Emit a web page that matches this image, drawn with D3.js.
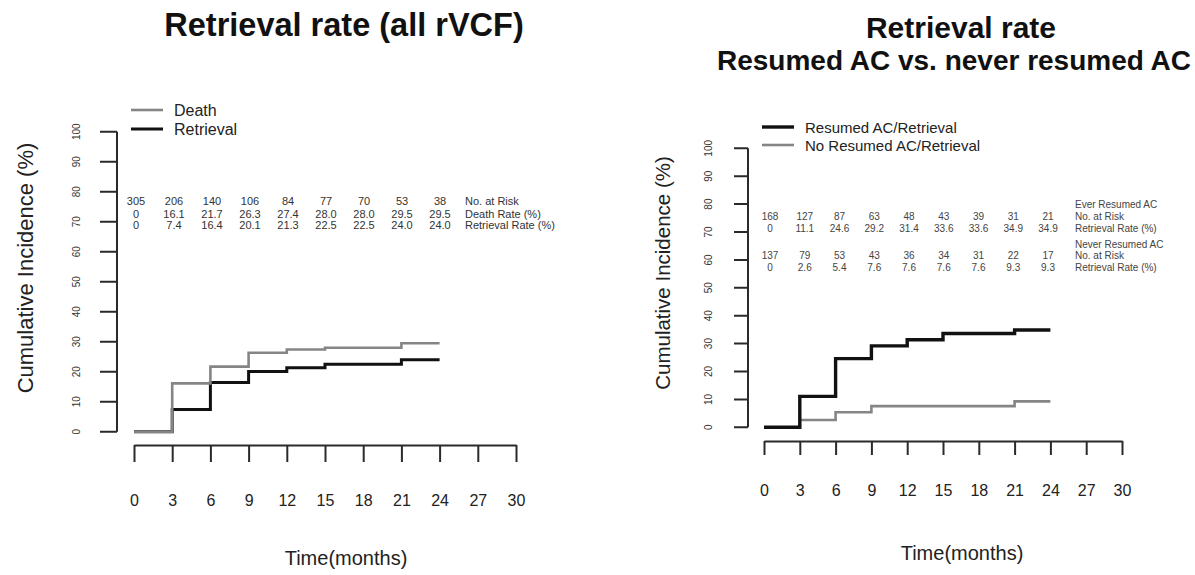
<!DOCTYPE html>
<html>
<head>
<meta charset="utf-8">
<script src="https://cdn.jsdelivr.net/npm/d3@7"></script>
<style>
  body { margin: 0; background: #fff; }
  svg { font-family: "Liberation Sans", Arial, sans-serif; display: block; }
</style>
</head>
<body>
<script>
const months = [0, 3, 6, 9, 12, 15, 18, 21, 24];
const xTicks = [0, 3, 6, 9, 12, 15, 18, 21, 24, 27, 30];
const yTicks = [0, 10, 20, 30, 40, 50, 60, 70, 80, 90, 100];

// left: all rVCF
const allAtRisk = [305, 206, 140, 106, 84, 77, 70, 53, 38];
const allDeathRate = [0, 16.1, 21.7, 26.3, 27.4, 28.0, 28.0, 29.5, 29.5];
const allRetrievalRate = [0, 7.4, 16.4, 20.1, 21.3, 22.5, 22.5, 24.0, 24.0];

// right: resumed AC vs never resumed AC
const everAtRisk = [168, 127, 87, 63, 48, 43, 39, 31, 21];
const everRetrievalRate = [0, 11.1, 24.6, 29.2, 31.4, 33.6, 33.6, 34.9, 34.9];
const neverAtRisk = [137, 79, 53, 43, 36, 34, 31, 22, 17];
const neverRetrievalRate = [0, 2.6, 5.4, 7.6, 7.6, 7.6, 7.6, 9.3, 9.3];

const width = 1195;
const height = 575;
const black = "#111";
const grey = "#858585";
const axisColor = "#2a2a2a";

const svg = d3
  .select("body")
  .append("svg")
  .attr("width", width)
  .attr("height", height)
  .attr("viewBox", [0, 0, width, height]);

const fmtRate = (v) => (v === 0 ? "0" : v.toFixed(1));

function drawPanel(p) {
  const x = d3.scaleLinear([0, 30], [p.x0, p.x1]);
  const y = d3.scaleLinear([0, 100], [p.yBottom, p.yTop]);
  const g = svg.append("g");

  // x axis
  const xAxis = g
    .append("g")
    .attr("transform", `translate(0,${p.xAxisY})`)
    .call(d3.axisBottom(x).tickValues(xTicks).tickSize(p.tick).tickSizeOuter(0));
  xAxis.selectAll("text")
    .attr("y", p.xLabelOff)
    .attr("dy", null)
    .attr("font-size", 16)
    .attr("fill", "#222");
  xAxis.select(".domain").attr("stroke", axisColor).attr("stroke-width", 2);
  xAxis.selectAll(".tick line").attr("stroke", axisColor).attr("stroke-width", 2);

  // y axis spine and ticks, placed in the x-axis group (relative to its origin)
  const yPath = d3.path();
  const dy = -p.xAxisY;
  yPath.moveTo(p.yAxisX, y(100) + dy);
  yPath.lineTo(p.yAxisX, y(0) + dy);
  yTicks.forEach((t) => {
    yPath.moveTo(p.yAxisX - p.tick, y(t) + dy);
    yPath.lineTo(p.yAxisX, y(t) + dy);
  });
  xAxis.append("path")
    .attr("class", "yaxis")
    .attr("d", yPath.toString())
    .attr("fill", "none")
    .attr("stroke", axisColor)
    .attr("stroke-width", 2);

  // y tick labels (rotated, R style)
  g.append("g")
    .selectAll("text")
    .data(yTicks)
    .join("text")
    .attr("transform", (d) => `translate(${p.yAxisX - p.yLabelOff},${y(d)}) rotate(-90)`)
    .attr("text-anchor", "middle")
    .attr("font-size", 10)
    .attr("fill", "#333")
    .text((d) => d);

  // curves, last series first so the first listed one ends on top
  const line = d3
    .line()
    .x((d) => x(d[0]))
    .y((d) => y(d[1]))
    .curve(d3.curveStepAfter);

  p.series.slice().reverse().forEach((s) => {
    g.append("path")
      .datum(months.map((m, i) => [m, s.values[i]]))
      .attr("fill", "none")
      .attr("stroke", s.color)
      .attr("stroke-width", s.width)
      .attr("d", line);
  });

  // legend
  p.series.forEach((s) => {
    g.append("line")
      .attr("x1", p.legend.x)
      .attr("x2", p.legend.x + 32)
      .attr("y1", s.legendY)
      .attr("y2", s.legendY)
      .attr("stroke", s.color)
      .attr("stroke-width", s.width);
    g.append("text")
      .attr("x", p.legend.x + 43)
      .attr("y", s.legendY + 6)
      .attr("font-size", p.legend.size)
      .attr("fill", "#222")
      .text(s.name);
  });

  // risk table
  const tx = p.tableScale;
  p.table.forEach((row) => {
    if (row.values) {
      g.append("g")
        .selectAll("text")
        .data(row.values)
        .join("text")
        .attr("x", (d, i) => tx(months[i]))
        .attr("y", row.y)
        .attr("text-anchor", "middle")
        .attr("font-size", p.tableSize)
        .attr("fill", p.tableColor)
        .text((d) => row.fmt(d));
    }
    g.append("text")
      .attr("x", p.tableLabelX)
      .attr("y", row.y)
      .attr("font-size", p.tableSize)
      .attr("fill", p.tableColor)
      .text(row.label);
  });

  // axis titles
  g.append("text")
    .attr("transform", `translate(${p.yTitleX},${p.yTitleY}) rotate(-90)`)
    .attr("text-anchor", "middle")
    .attr("font-size", p.yTitleSize)
    .attr("fill", "#222")
    .text("Cumulative Incidence (%)");

  g.append("text")
    .attr("x", p.xTitleX)
    .attr("y", p.xTitleY)
    .attr("text-anchor", "middle")
    .attr("font-size", 20)
    .attr("fill", "#222")
    .text("Time(months)");
}

// left panel
drawPanel({
  x0: 134, x1: 516, yBottom: 431.7, yTop: 131.7,
  yAxisX: 117, xAxisY: 445, tick: 17, yLabelOff: 37, xLabelOff: 61,
  series: [
    { name: "Death", values: allDeathRate, color: grey, width: 2.6, legendY: 110 },
    { name: "Retrieval", values: allRetrievalRate, color: black, width: 3, legendY: 129 },
  ],
  legend: { x: 131, size: 16 },
  tableScale: d3.scaleLinear([0, 30], [136, 516]),
  tableLabelX: 465, tableSize: 11, tableColor: "#333",
  table: [
    { label: "No. at Risk", values: allAtRisk, fmt: (d) => d, y: 205 },
    { label: "Death Rate (%)", values: allDeathRate, fmt: fmtRate, y: 217.5 },
    { label: "Retrieval Rate (%)", values: allRetrievalRate, fmt: fmtRate, y: 229 },
  ],
  yTitleX: 33, yTitleY: 268, yTitleSize: 22,
  xTitleX: 346, xTitleY: 565,
});

// right panel
drawPanel({
  x0: 764, x1: 1122, yBottom: 427.3, yTop: 148.3,
  yAxisX: 748, xAxisY: 441, tick: 14, yLabelOff: 36, xLabelOff: 55,
  series: [
    { name: "Resumed AC/Retrieval", values: everRetrievalRate, color: black, width: 3.4, legendY: 127 },
    { name: "No Resumed AC/Retrieval", values: neverRetrievalRate, color: grey, width: 2.6, legendY: 145 },
  ],
  legend: { x: 762, size: 15 },
  tableScale: d3.scaleLinear([0, 24], [770, 1048]),
  tableLabelX: 1075, tableSize: 10, tableColor: "#444",
  table: [
    { label: "Ever Resumed AC", y: 208 },
    { label: "No. at Risk", values: everAtRisk, fmt: (d) => d, y: 219.5 },
    { label: "Retrieval Rate (%)", values: everRetrievalRate, fmt: fmtRate, y: 232 },
    { label: "Never Resumed AC", y: 247.5 },
    { label: "No. at Risk", values: neverAtRisk, fmt: (d) => d, y: 258.5 },
    { label: "Retrieval Rate (%)", values: neverRetrievalRate, fmt: fmtRate, y: 270.5 },
  ],
  yTitleX: 670, yTitleY: 273, yTitleSize: 20.5,
  xTitleX: 962, xTitleY: 560,
});

// titles
svg.append("text")
  .attr("x", 344).attr("y", 36)
  .attr("text-anchor", "middle")
  .attr("font-size", 32.5).attr("font-weight", "bold").attr("fill", "#111")
  .text("Retrieval rate (all rVCF)");

svg.append("text")
  .attr("x", 961).attr("y", 38)
  .attr("text-anchor", "middle")
  .attr("font-size", 30).attr("font-weight", "bold").attr("fill", "#111")
  .text("Retrieval rate");

svg.append("text")
  .attr("x", 954).attr("y", 70)
  .attr("text-anchor", "middle")
  .attr("font-size", 28).attr("font-weight", "bold").attr("fill", "#111")
  .text("Resumed AC vs. never resumed AC");
</script>
</body>
</html>
